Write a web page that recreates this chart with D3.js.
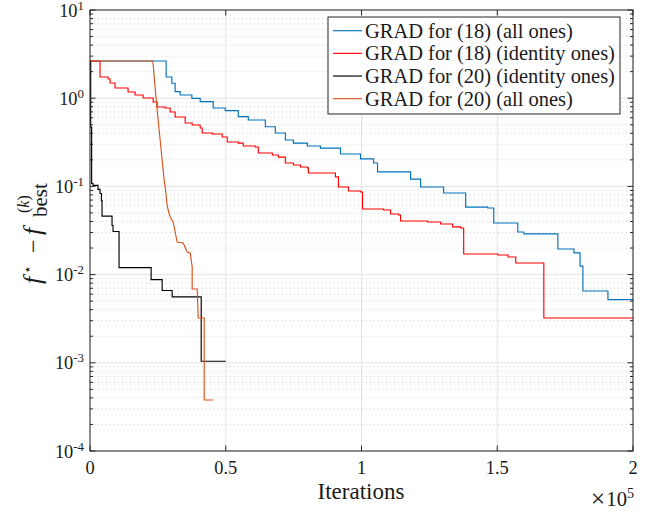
<!DOCTYPE html>
<html><head><meta charset="utf-8">
<script src="https://cdn.jsdelivr.net/npm/d3@7"></script>
<style>body{margin:0;background:#fff}svg{display:block}</style>
</head><body><svg id="c" width="660" height="512"></svg>
<script>
// ---------- data ----------
const seriesNames = ["GRAD for (18) (all ones)", "GRAD for (18) (identity ones)", "GRAD for (20) (identity ones)", "GRAD for (20) (all ones)"];
const seriesColors = ["#0072BD", "#FF0000", "#000000", "#D95319"];
// [iteration, f* - f_best] ; step series: value holds from iteration onwards
const grad18AllOnes = [[0,2.64],[28044,1.74],[30148,1.476],[31365,1.185],[33210,1.087],[37527,0.997],[40590,0.913],[45387,0.774],[49815,0.722],[54612,0.617],[58302,0.566],[64575,0.475],[68265,0.403],[71955,0.336],[74907,0.310],[80073,0.287],[84870,0.272],[92250,0.233],[99630,0.205],[104427,0.184],[105903,0.146],[118080,0.121],[121770,0.0984],[130257,0.0841],[138375,0.0583],[146493,0.0569],[148707,0.0385],[157563,0.0304],[159777,0.0289],[172323,0.0195],[178227,0.0176],[180500,0.0125],[181548,0.00652],[190773,0.0052],[200000,0.0052]];
const grad18IdentityOnes = [[0,2.64],[3690,1.74],[6642,1.651],[7380,1.486],[9225,1.305],[14022,1.176],[16605,1.087],[19557,1.005],[23247,0.906],[24723,0.795],[27675,0.774],[29520,0.698],[31365,0.612],[35055,0.524],[37638,0.497],[40590,0.459],[41328,0.403],[45018,0.393],[48708,0.363],[50553,0.319],[54612,0.310],[56457,0.287],[60885,0.280],[61992,0.239],[67158,0.227],[69372,0.215],[71955,0.184],[74907,0.175],[77490,0.166],[80073,0.162],[80442,0.142],[90405,0.128],[91512,0.0984],[95202,0.0887],[99630,0.0864],[100368,0.0554],[108117,0.054],[110700,0.0486],[113652,0.0474],[114390,0.0405],[124353,0.0395],[129150,0.0375],[133578,0.0347],[136530,0.0338],[137637,0.01714],[150183,0.01668],[154000,0.01584],[156825,0.01355],[167157,0.00322],[200000,0.00322]];
const grad20IdentityOnes = [[0,2.64],[250,0.47],[600,0.108],[1100,0.1026],[2950,0.0924],[3690,0.083],[4200,0.069],[4430,0.0461],[8120,0.036],[8490,0.0308],[10700,0.012],[22510,0.00877],[26570,0.0066],[30260,0.0056],[40960,0.00104],[50000,0.00104]];
// polyline (linear between recorded points)
const grad20AllOnes = [[0,2.64],[23140,2.64],[24612,0.801],[26457,0.217],[27306,0.118],[27675,0.0986],[28413,0.0615],[28782,0.054],[29520,0.045],[30627,0.0395],[32103,0.0234],[34317,0.0228],[35793,0.018],[36900,0.0176],[37638,0.0122],[37638,0.00687],[39483,0.00687],[39852,0.00322],[42066,0.00322],[42066,0.000379],[45387,0.000379]];
const xTicks = [0, 50000, 100000, 150000, 200000];
const xTickLabels = ["0", "0.5", "1", "1.5", "2"];
const yTickExps = [1, 0, -1, -2, -3, -4];

// ---------- chart ----------
const svg = d3.select("#c");
const FONT = "Liberation Serif";
const L = 90, R = 633, T = 10, B = 451;
const x = d3.scaleLinear().domain([0, 200000]).range([L, R]);
const y = d3.scaleLog().domain([1e-4, 10]).range([B, T]);
const ink = "#262626";

function fitSize(str, target) {
  const t = svg.append("text").attr("font-family", FONT).attr("font-size", 20).text(str);
  const w = t.node().getComputedTextLength();
  t.remove();
  return 20 * target / w;
}
const legendSize = Math.max(17, Math.min(22, fitSize("GRAD for (18) (all ones)", 208)));
const tickSize = Math.max(16, Math.min(21, fitSize("0.5", 23)));
const labelSize = Math.max(17, Math.min(23, fitSize("Iterations", 88)));
const supSize = tickSize * 0.7;

const majors = yTickExps.map(e => Math.pow(10, e));
const minors = [];
for (let e = -4; e < 1; e++) for (let k = 2; k <= 9; k++) minors.push(k * Math.pow(10, e));

const grid = svg.append("g");
grid.selectAll(".mn").data(minors).join("line")
  .attr("x1", L).attr("x2", R).attr("y1", d => y(d)).attr("y2", d => y(d))
  .attr("stroke", "#c4c4c4").attr("stroke-width", 0.8).attr("stroke-dasharray", "1,3");
grid.selectAll(".mj").data(majors).join("line")
  .attr("x1", L).attr("x2", R).attr("y1", d => y(d)).attr("y2", d => y(d))
  .attr("stroke", "#e4e4e4").attr("stroke-width", 1);
grid.selectAll(".vx").data(xTicks).join("line")
  .attr("x1", d => x(d)).attr("x2", d => x(d)).attr("y1", T).attr("y2", B)
  .attr("stroke", "#e4e4e4").attr("stroke-width", 1);

// series
const stepLine = d3.line().x(d => x(d[0])).y(d => y(d[1])).curve(d3.curveStepAfter);
const linLine = d3.line().x(d => x(d[0])).y(d => y(d[1]));
const series = [
  {d: grad18AllOnes, gen: stepLine},
  {d: grad18IdentityOnes, gen: stepLine},
  {d: grad20IdentityOnes, gen: stepLine},
  {d: grad20AllOnes, gen: linLine}
];
const lines = svg.append("g");
series.forEach((s, i) => {
  lines.append("path").attr("d", s.gen(s.d)).attr("fill", "none")
    .attr("stroke", seriesColors[i]).attr("stroke-width", 1.15);
});

// axes box + ticks
const ax = svg.append("g").attr("stroke", ink).attr("stroke-width", 1);
ax.append("rect").attr("x", L).attr("y", T).attr("width", R - L).attr("height", B - T).attr("fill", "none");
xTicks.forEach(t => {
  ax.append("line").attr("x1", x(t)).attr("x2", x(t)).attr("y1", B).attr("y2", B - 5.5);
  ax.append("line").attr("x1", x(t)).attr("x2", x(t)).attr("y1", T).attr("y2", T + 5.5);
});
majors.forEach(t => {
  ax.append("line").attr("x1", L).attr("x2", L + 5.5).attr("y1", y(t)).attr("y2", y(t));
  ax.append("line").attr("x1", R).attr("x2", R - 5.5).attr("y1", y(t)).attr("y2", y(t));
});
minors.forEach(t => {
  ax.append("line").attr("x1", L).attr("x2", L + 3).attr("y1", y(t)).attr("y2", y(t));
  ax.append("line").attr("x1", R).attr("x2", R - 3).attr("y1", y(t)).attr("y2", y(t));
});

// tick labels
const txt = svg.append("g").attr("font-family", FONT).attr("fill", "#1a1a1a");
xTicks.forEach((t, i) => {
  txt.append("text").attr("x", x(t)).attr("y", 474).attr("text-anchor", "middle")
    .attr("font-size", tickSize).text(xTickLabels[i]);
});
yTickExps.forEach(e => {
  const t = txt.append("text").attr("x", 84).attr("y", y(Math.pow(10, e)) + 6.5)
    .attr("text-anchor", "end").attr("font-size", tickSize);
  t.append("tspan").text("10");
  t.append("tspan").attr("dy", -7).attr("font-size", supSize).text(e < 0 ? "-" + (-e) : String(e));
});
// x label and multiplier
txt.append("text").attr("x", 361).attr("y", 499).attr("text-anchor", "middle")
  .attr("font-size", labelSize).text("Iterations");
const m = txt.append("text").attr("x", 634).attr("y", 506).attr("text-anchor", "end").attr("font-size", tickSize * 1.12);
m.append("tspan").attr("font-size", tickSize * 1.4).attr("dy", 1).text("×");
m.append("tspan").attr("dx", 1).attr("dy", -1).text("10");
m.append("tspan").attr("dy", -8).attr("font-size", supSize * 1.1).text("5");

// y label  f* - f_best^(k)
const yl = txt.append("g").attr("transform", "translate(41,228) rotate(-90)");
yl.append("text").attr("x", -56).attr("y", 0).attr("font-size", 26).attr("font-style", "italic").text("f");
yl.append("text").attr("x", -46).attr("y", -9).attr("font-size", 14).attr("font-family", "DejaVu Sans").text("⋆");
yl.append("text").attr("x", -25).attr("y", 0).attr("font-size", 24).text("−");
yl.append("text").attr("x", -7).attr("y", 0).attr("font-size", 26).attr("font-style", "italic").text("f");
yl.append("text").attr("x", 11).attr("y", 6).attr("font-size", 21).text("best");
yl.append("text").attr("x", 15).attr("y", -12).attr("font-size", 16).html("(<tspan font-style='italic'>k</tspan>)");

// legend
const lg = svg.append("g");
lg.append("rect").attr("x", 328).attr("y", 17).attr("width", 292).attr("height", 97)
  .attr("fill", "#fff").attr("stroke", ink).attr("stroke-width", 1);
const rowY = d3.scaleLinear().domain([0, 3]).range([30.7, 98.7]);
seriesNames.forEach((n, i) => {
  lg.append("line").attr("x1", 333).attr("x2", 362).attr("y1", rowY(i)).attr("y2", rowY(i))
    .attr("stroke", seriesColors[i]).attr("stroke-width", 1.15);
  lg.append("text").attr("x", 365).attr("y", rowY(i) + 7).attr("font-family", FONT)
    .attr("font-size", legendSize).attr("fill", "#1a1a1a").text(n);
});
</script></body></html>
